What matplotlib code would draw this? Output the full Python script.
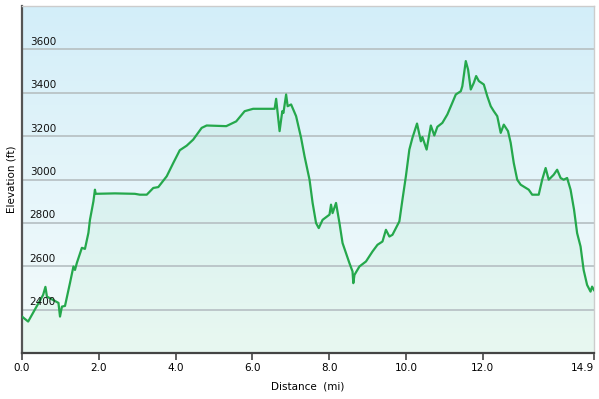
import numpy as np
import matplotlib
matplotlib.use('Agg')
import matplotlib.pyplot as plt
from matplotlib.colors import LinearSegmentedColormap

# elevation profile
dist_mi = [0.00, 0.16, 0.55, 0.61, 0.65, 0.95, 0.99, 1.04, 1.12, 1.25,
           1.34, 1.38, 1.43, 1.56, 1.64, 1.73, 1.77, 1.86, 1.90, 1.92,
           2.42, 2.94, 3.07, 3.25, 3.42, 3.55, 3.77, 3.94, 4.11, 4.29,
           4.46, 4.68, 4.81, 5.32, 5.58, 5.80, 6.02, 6.58, 6.62, 6.71,
           6.78, 6.81, 6.88, 6.92, 7.01, 7.14, 7.27, 7.36, 7.49, 7.57,
           7.66, 7.73, 7.83, 8.01, 8.05, 8.09, 8.18, 8.27, 8.35, 8.53,
           8.61, 8.63, 8.66, 8.79, 8.96, 9.13, 9.26, 9.39, 9.48, 9.57,
           9.65, 9.83, 9.91, 10.00, 10.09, 10.17, 10.29, 10.39, 10.43, 10.54,
           10.65, 10.74, 10.82, 10.95, 11.08, 11.21, 11.30, 11.43, 11.47, 11.56,
           11.62, 11.69, 11.77, 11.83, 11.90, 12.03, 12.12, 12.21, 12.29, 12.38,
           12.47, 12.55, 12.66, 12.73, 12.81, 12.90, 12.99, 13.20, 13.29, 13.46,
           13.55, 13.64, 13.72, 13.85, 13.94, 14.03, 14.11, 14.20, 14.29, 14.38,
           14.46, 14.55, 14.63, 14.72, 14.81, 14.85, 14.90]
elev_ft = [2368, 2345, 2468, 2505, 2460, 2431, 2368, 2414, 2417, 2523,
           2599, 2583, 2616, 2685, 2680, 2754, 2814, 2899, 2953, 2934,
           2936, 2934, 2930, 2930, 2961, 2965, 3015, 3076, 3135, 3156,
           3184, 3238, 3249, 3246, 3268, 3315, 3326, 3326, 3372, 3223,
           3315, 3307, 3392, 3338, 3346, 3292, 3192, 3107, 2999, 2892,
           2799, 2776, 2814, 2838, 2884, 2845, 2892, 2799, 2707, 2614,
           2576, 2522, 2560, 2599, 2622, 2668, 2699, 2714, 2768, 2737,
           2745, 2807, 2907, 3015, 3138, 3192, 3258, 3176, 3196, 3138,
           3249, 3203, 3243, 3261, 3300, 3354, 3392, 3407, 3430, 3546,
           3507, 3415, 3446, 3477, 3454, 3438, 3384, 3338, 3315, 3292,
           3215, 3253, 3223, 3169, 3076, 2999, 2976, 2953, 2930, 2930,
           2999, 3053, 2999, 3022, 3045, 3007, 2999, 3007, 2953, 2861,
           2753, 2691, 2583, 2514, 2483, 2506, 2490]

y_ticks = [2400, 2600, 2800, 3000, 3200, 3400, 3600]
x_ticks = [0.0, 2.0, 4.0, 6.0, 8.0, 10.0, 12.0, 14.9]
x_labels = ['0.0', '2.0', '4.0', '6.0', '8.0', '10.0', '12.0', '14.9']

fs = 7.5
W, H = 599, 399
fig = plt.figure(figsize=(W/100, H/100), dpi=100)
ax = fig.add_axes([22/W, (H-353)/H, (594-22)/W, (353-6)/H])
ax.set_xlim(0, 14.9)
ax.set_ylim(2200, 3800)

# background gradient (light blue at top -> near white at bottom)
bg = LinearSegmentedColormap.from_list('bg', ['#f6fcfb', '#d3eef9'])
grad = np.linspace(0, 1, 256).reshape(-1, 1)
ax.imshow(grad, cmap=bg, aspect='auto', origin='lower',
          extent=[0, 14.9, 2200, 3800], zorder=0)

ax.fill_between(dist_mi, elev_ft, 2200, color='#3cc46e', alpha=0.07,
                linewidth=0, zorder=1)

for v in y_ticks:
  ax.axhline(v, color='#b9c3c6', linewidth=1.3, zorder=2)
  ax.text(0.2, v + 12, str(v), fontsize=fs, color='#111111',
          ha='left', va='bottom', zorder=4)

ax.plot(dist_mi, elev_ft, color='#25a84c', linewidth=1.6, zorder=3)

ax.set_yticks([])
ax.set_xticks(x_ticks)
ax.set_xticklabels(x_labels, fontsize=fs)
ax.get_xticklabels()[-1].set_horizontalalignment('right')
ax.tick_params(axis='x', direction='out', length=5, width=1.2,
               color='#444444', pad=2)

for s in ['top', 'right']:
  ax.spines[s].set_color('#cccccc')
  ax.spines[s].set_linewidth(1.0)
ax.spines['left'].set_color('#555555')
ax.spines['left'].set_linewidth(1.6)
ax.spines['bottom'].set_color('#444444')
ax.spines['bottom'].set_linewidth(1.6)

ax.set_xlabel('Distance  (mi)', fontsize=fs, labelpad=6)
ax.set_ylabel('Elevation (ft)', fontsize=fs, labelpad=4)

fig.savefig('out.png', dpi=100)
